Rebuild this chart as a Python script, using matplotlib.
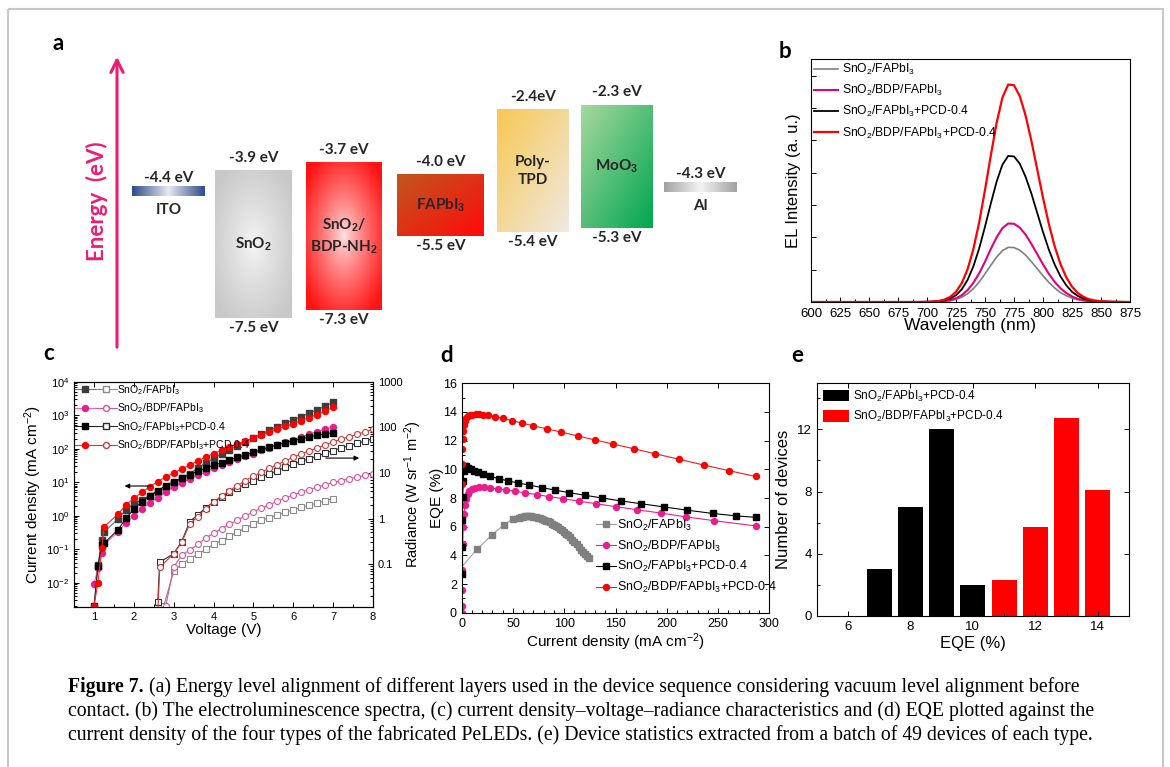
import numpy as np
import matplotlib
matplotlib.use("Agg")
import matplotlib.pyplot as plt
from matplotlib.colors import to_rgb
from matplotlib.lines import Line2D
from matplotlib.patches import Rectangle
from matplotlib.legend_handler import HandlerTuple
from matplotlib.ticker import MultipleLocator, LogLocator, FuncFormatter, NullFormatter

plt.rcParams['font.family'] = ['Liberation Sans', 'DejaVu Sans']
plt.rcParams['mathtext.fontset'] = 'custom'
plt.rcParams['mathtext.rm'] = 'Liberation Sans'
plt.rcParams['mathtext.it'] = 'Liberation Sans:italic'
plt.rcParams['mathtext.bf'] = 'Liberation Sans:bold'
plt.rcParams['axes.linewidth'] = 0.8

# ======================
# data
# ======================
# (a) energy levels (eV)
layer_names = ["ITO", r"SnO$_\mathbf{2}$", "SnO$_\\mathbf{2}$/\nBDP-NH$_\\mathbf{2}$",
               r"FAPbI$_\mathbf{3}$", "Poly-\nTPD", r"MoO$_\mathbf{3}$", "Al"]
upper_level = [-4.4, -3.9, -3.7, -4.0, -2.4, -2.3, -4.3]
lower_level = [None, -7.5, -7.3, -5.5, -5.4, -5.3, None]
upper_text = ["-4.4 eV", "-3.9 eV", "-3.7 eV", "-4.0 eV", "-2.4eV", "-2.3 eV", "-4.3 eV"]
lower_text = [None, "-7.5 eV", "-7.3 eV", "-5.5 eV", "-5.4 eV", "-5.3 eV", None]

# (b) EL spectra
wavelength = [600, 650, 690, 700, 705, 710, 715, 720, 725, 730, 735, 740, 745, 750, 755, 760,
              765, 770, 775, 780, 785, 790, 795, 800, 805, 810, 815, 820, 825, 830, 835,
              840, 845, 850, 860, 875]
el_ref = [0, 0, 0, 0.0, 0.0, 0.001, 0.003, 0.005, 0.011, 0.020, 0.034, 0.055, 0.082, 0.116,
          0.151, 0.185, 0.211, 0.225, 0.224, 0.213, 0.193, 0.166, 0.137, 0.108, 0.081,
          0.058, 0.039, 0.026, 0.016, 0.009, 0.005, 0.003, 0.002, 0.001, 0, 0]
el_bdp = [0, 0, 0, 0.0, 0.001, 0.002, 0.004, 0.008, 0.015, 0.028, 0.049, 0.079, 0.118,
          0.166, 0.218, 0.266, 0.304, 0.323, 0.322, 0.306, 0.277, 0.239, 0.197, 0.155,
          0.116, 0.083, 0.057, 0.037, 0.023, 0.013, 0.008, 0.004, 0.002, 0.001, 0, 0]
el_pcd = [0, 0, 0, 0.001, 0.001, 0.003, 0.007, 0.014, 0.028, 0.052, 0.091, 0.147, 0.221,
          0.310, 0.405, 0.495, 0.565, 0.601, 0.599, 0.569, 0.515, 0.446, 0.367, 0.288,
          0.216, 0.155, 0.106, 0.069, 0.042, 0.025, 0.014, 0.007, 0.004, 0.002, 0.001, 0]
el_bdp_pcd = [0, 0, 0, 0.001, 0.002, 0.004, 0.010, 0.021, 0.042, 0.078, 0.135, 0.218,
              0.328, 0.461, 0.603, 0.737, 0.841, 0.895, 0.892, 0.847, 0.767, 0.663, 0.546,
              0.429, 0.322, 0.230, 0.157, 0.102, 0.063, 0.037, 0.021, 0.011, 0.006, 0.003,
              0.001, 0]

# (c) J-V-R
volt_j = [1.0, 1.1, 1.2, 1.25, 1.6, 1.8, 2.0, 2.2, 2.4, 2.6, 2.8, 3.0, 3.2, 3.4, 3.6, 3.8,
          4.0, 4.2, 4.4, 4.6, 4.8, 5.0, 5.2, 5.4, 5.6, 5.8, 6.0, 6.2, 6.4, 6.6, 6.8, 7.0]
j_ref = [0.0015, 0.035, 0.19, 0.32, 0.8, 1.5, 2.3, 3.0, 4.0, 5.2, 7.0, 9.5, 13, 18, 26, 38,
         52, 71, 93, 123, 162, 214, 275, 355, 457, 575, 724, 912, 1150, 1450, 1860, 2400]
j_bdp = [0.009, 0.028, 0.08, 0.14, 0.32, 0.63, 1.0, 1.6, 2.4, 3.5, 5.2, 7.2, 9.8, 12.6, 16,
         20, 26, 32, 39, 48, 59, 72, 89, 107, 129, 155, 186, 224, 269, 324, 380, 447]
j_pcd = [0.002, 0.032, 0.13, 0.15, 0.38, 0.83, 1.6, 2.6, 4.0, 5.6, 8.0, 10.5, 13.5, 17, 21,
         26, 32, 38, 46, 55, 66, 79, 95, 112, 132, 151, 174, 200, 224, 251, 275, 302]
j_bdp_pcd = [0.002, 0.01, 0.11, 0.47, 1.1, 2.1, 3.3, 5.0, 7.4, 10.5, 14.5, 19, 25, 33, 43,
             56, 72, 90, 112, 140, 172, 212, 262, 320, 390, 465, 560, 690, 850, 1050, 1320,
             1700]

volt_r_pcd = [2.6, 2.65, 3.0, 3.2, 3.4, 3.6, 3.8, 4.0, 4.2, 4.4, 4.6, 4.8, 5.0, 5.2, 5.4,
              5.6, 5.8, 6.0, 6.2, 6.4, 6.6, 6.8, 7.0, 7.2, 7.4, 7.6, 7.8, 8.0]
r_pcd = [0.015, 0.11, 0.17, 0.31, 0.85, 1.2, 1.7, 2.3, 3.0, 3.8, 4.7, 5.7, 6.7, 8.0, 9.5,
         11.2, 13.3, 15.5, 18, 20.5, 23.5, 27, 31, 35, 39.5, 44.5, 50, 56]
r_bdp_pcd = [0.008, 0.085, 0.17, 0.30, 0.75, 1.1, 1.65, 2.3, 3.1, 4.1, 5.3, 6.8, 8.5, 10.4,
             12.6, 15.2, 18.3, 22, 26, 30.5, 35.5, 41, 48, 55, 62, 70, 80, 90]
volt_r_ref = [2.75, 3.0, 3.2, 3.4, 3.6, 3.8, 4.0, 4.2, 4.4, 4.6, 4.8, 5.0, 5.2, 5.4, 5.6,
              5.8, 6.0, 6.2, 6.4, 6.6, 6.8, 7.0]
r_ref = [0.012, 0.07, 0.10, 0.13, 0.165, 0.21, 0.27, 0.33, 0.41, 0.5, 0.62, 0.77, 0.92,
         1.05, 1.2, 1.38, 1.55, 1.75, 1.95, 2.2, 2.45, 2.75]
volt_r_bdp = [2.8, 3.0, 3.2, 3.4, 3.6, 3.8, 4.0, 4.2, 4.4, 4.6, 4.8, 5.0, 5.2, 5.4, 5.6,
              5.8, 6.0, 6.2, 6.4, 6.6, 6.8, 7.0, 7.2, 7.4, 7.6, 7.8, 8.0]
r_bdp = [0.012, 0.085, 0.16, 0.2, 0.27, 0.37, 0.48, 0.6, 0.75, 0.92, 1.15, 1.4, 1.7, 2.0,
         2.4, 2.85, 3.3, 3.8, 4.3, 4.9, 5.5, 6.2, 6.8, 7.4, 8.1, 8.8, 9.6]

# (d) EQE vs current density
jd_ref = [0, 15, 29.5, 41, 50, 56, 58, 60, 62, 64, 66, 68, 70, 72, 74, 76, 78, 80, 82, 84,
          86, 88, 90, 92, 94, 96, 98, 100, 102, 104, 106, 108, 110, 112, 114, 116, 118,
          120, 122, 124]
eqe_ref = [3.2, 4.42, 5.42, 6.12, 6.55, 6.62, 6.66, 6.69, 6.71, 6.72, 6.72, 6.71, 6.69,
           6.66, 6.63, 6.59, 6.54, 6.49, 6.43, 6.37, 6.30, 6.22, 6.14, 6.05, 5.96, 5.86,
           5.75, 5.64, 5.52, 5.39, 5.25, 5.10, 4.94, 4.77, 4.59, 4.40, 4.22, 4.06, 3.93,
           3.83]
jd_bdp = [0, 0.2, 0.4, 0.7, 1.0, 1.5, 2.2, 3.0, 4.2, 5.7, 7.5, 10, 13, 17, 22, 28, 35, 43,
          52, 62, 73, 85, 99, 114, 131, 150, 171, 194, 219, 246, 287]
eqe_bdp = [0, 0.5, 1.6, 3.0, 4.8, 6.0, 6.9, 7.5, 7.95, 8.3, 8.5, 8.65, 8.72, 8.75, 8.74,
           8.7, 8.64, 8.56, 8.47, 8.36, 8.24, 8.1, 7.95, 7.78, 7.6, 7.4, 7.18, 6.95, 6.68,
           6.42, 6.05]
jd_pcd = [0, 0.3, 0.6, 1.0, 1.5, 2.2, 3.0, 4.5, 6.5, 9, 12, 16, 21, 28, 36, 45, 55, 66, 78,
          91, 105, 120, 137, 155, 175, 197, 220, 245, 268, 287]
eqe_pcd = [2.7, 4.6, 6.5, 8.1, 9.2, 9.9, 10.25, 10.2, 10.1, 10.0, 9.9, 9.78, 9.65, 9.5,
           9.35, 9.2, 9.05, 8.9, 8.73, 8.55, 8.37, 8.19, 8.0, 7.8, 7.6, 7.38, 7.15, 6.92,
           6.75, 6.65]
jd_bdp_pcd = [0, 0.3, 0.6, 1.0, 1.5, 2.2, 3.2, 4.5, 6, 8, 10.5, 13.5, 17, 21, 26, 32, 40,
              49, 59, 70, 83, 97, 113, 130, 148, 168, 189, 212, 236, 261, 287]
eqe_bdp_pcd = [9.0, 10.4, 11.4, 12.1, 12.7, 13.1, 13.4, 13.6, 13.7, 13.78, 13.82, 13.85,
               13.85, 13.82, 13.76, 13.68, 13.56, 13.4, 13.22, 13.03, 12.82, 12.6, 12.33,
               12.05, 11.76, 11.43, 11.08, 10.7, 10.3, 9.9, 9.5]

# (e) device statistics
eqe_bins_pcd = [7, 8, 9, 10]
count_pcd = [3.0, 7.0, 12.0, 2.0]
eqe_bins_bdp_pcd = [11, 12, 13, 14]
count_bdp_pcd = [2.3, 5.75, 12.7, 8.1]

labels = ["SnO$_2$/FAPbI$_3$", "SnO$_2$/BDP/FAPbI$_3$", "SnO$_2$/FAPbI$_3$+PCD-0.4",
          "SnO$_2$/BDP/FAPbI$_3$+PCD-0.4"]

caption = ["(a) Energy level alignment of different layers used in the device sequence "
           "considering vacuum level alignment before",
           "contact. (b) The electroluminescence spectra, (c) current density\u2013voltage\u2013"
           "radiance characteristics and (d) EQE plotted against the",
           "current density of the four types of the fabricated PeLEDs. (e) Device statistics "
           "extracted from a batch of 49 devices of each type."]

# ======================
# layout helpers
# ======================
W, H = 1170, 767
fig = plt.figure(figsize=(W / 100, H / 100), dpi=100)
fig.patch.set_facecolor('white')


def px_axes(x0, y0, x1, y1):
    return fig.add_axes([x0 / W, 1 - y1 / H, (x1 - x0) / W, (y1 - y0) / H])


def style_ticks(ax, size):
    ax.tick_params(which='both', direction='in', labelsize=size, width=0.7)
    ax.tick_params(which='major', length=3.5)
    ax.tick_params(which='minor', length=2)


def gradient(kind, c1, c2, n=80):
    a, b = np.array(to_rgb(c1)), np.array(to_rgb(c2))
    u, v = np.meshgrid(np.linspace(0, 1, n), np.linspace(0, 1, n))
    if kind == 'h':
        t = np.abs(u - 0.5) * 2
    elif kind == 'r':
        t = np.clip(np.hypot((u - 0.5) * 2, (v - 0.5) * 2) / 1.25, 0, 1) ** 0.8
    else:
        t = (u + v) / 2
    return a * (1 - t[..., None]) + b * t[..., None]


# ======================
# (a) energy diagram
# ======================
axa = px_axes(0, 40, W, 340)
axa.axis('off')

layer_x = [(132, 205), (215, 292), (306, 382), (397, 484), (497, 569), (581, 653), (664, 737)]
layer_fill = [('h', '#e6eaf2', '#2d4b8c'), ('r', '#f7f7f7', '#c8c8c8'),
              ('r', '#ffe8e8', '#ff1414'), ('d', '#c0571f', '#ff0a0a'),
              ('d', '#f8c853', '#f0e9e2'), ('d', '#a8d89e', '#00a650'),
              ('h', '#f4f4f4', '#a2a2a2')]
txt_kw = dict(family=['Lato', 'DejaVu Sans'], fontweight='bold', color='#262626',
              ha='center', va='center', textcoords='offset pixels')

for name, up, lo, ut, lt, (x0, x1), (kind, c1, c2) in zip(
        layer_names, upper_level, lower_level, upper_text, lower_text, layer_x, layer_fill):
    xc = (x0 + x1) / 2
    if lo is None:
        # electrode: thin bar at the work function
        top, bot = up + 0.12, up - 0.12
        axa.imshow(gradient(kind, c1, c2), extent=[x0, x1, bot, top], aspect='auto',
                   interpolation='bilinear', zorder=2)
        axa.annotate(ut, (xc, up), xytext=(0, 13), fontsize=11, **txt_kw)
        axa.annotate(name, (xc, up), xytext=(0, -19), fontsize=11, **txt_kw)
    else:
        axa.imshow(gradient(kind, c1, c2), extent=[x0, x1, lo, up], aspect='auto',
                   interpolation='bilinear', zorder=2)
        axa.annotate(ut, (xc, up), xytext=(0, 13), fontsize=11, **txt_kw)
        axa.annotate(lt, (xc, lo), xytext=(0, -10), fontsize=11, **txt_kw)
        axa.annotate(name, (xc, (up + lo) / 2), xytext=(0, 0), fontsize=11,
                     linespacing=1.35, **txt_kw)
axa.set_xlim(0, W)
axa.set_ylim(-8.038, -0.698)

# ======================
# (b) EL spectra
# ======================
axb = px_axes(811, 59, 1130, 302)
for lab, vals, col, lw in zip(labels, [el_ref, el_bdp, el_pcd, el_bdp_pcd],
                              ['#808080', '#e4007c', '#000000', '#ff0000'],
                              [1.2, 1.5, 1.3, 1.6]):
    axb.plot(wavelength, vals, color=col, lw=lw, label=lab)
axb.set_xlim(600, 875)
axb.set_ylim(0, 1.0)
axb.xaxis.set_major_locator(MultipleLocator(25))
axb.xaxis.set_minor_locator(MultipleLocator(12.5))
axb.yaxis.set_major_locator(MultipleLocator(0.133))
axb.yaxis.set_major_formatter(NullFormatter())
style_ticks(axb, 9.5)
axb.tick_params(axis='x', pad=4)
axb.set_xlabel("Wavelength (nm)", fontsize=12.5, labelpad=-1)
axb.set_ylabel("EL Intensity (a. u.)", fontsize=12, labelpad=4)
axb.legend(loc='upper left', frameon=False, fontsize=8.7, handlelength=2.0,
           handletextpad=0.3, borderaxespad=0, borderpad=0.25, labelspacing=0.5)

# ======================
# (c) J-V-R
# ======================
axc = px_axes(74, 381.7, 373, 607)
axc.set_yscale('log')
axc2 = axc.twinx()
axc2.set_yscale('log')

j_series = [j_ref, j_bdp, j_pcd, j_bdp_pcd]
j_cols = ['#3d3d3d', '#ec1c8c', '#000000', '#ff0000']
j_lines = ['#707070', '#f06aa8', '#202020', '#e83030']
j_marks = ['s', 'o', 's', 'o']
for vals, col, lcol, mk in zip(j_series, j_cols, j_lines, j_marks):
    axc.plot(volt_j, vals, color=lcol, lw=0.8, marker=mk, ms=4.3, mfc=col, mec=col)

r_volts = [volt_r_ref, volt_r_bdp, volt_r_pcd, volt_r_pcd]
r_series = [r_ref, r_bdp, r_pcd, r_bdp_pcd]
r_cols = ['#8a8a8a', '#d8559a', '#303030', '#c83c3c']
for vv, vals, col, mk in zip(r_volts, r_series, r_cols, j_marks):
    axc2.plot(vv, vals, color=col, lw=0.8, marker=mk, ms=4.3, mfc='white', mec=col, mew=0.8)

axc.set_xlim(0.5, 8)
axc.set_ylim(1.9e-3, 1e4)
axc2.set_ylim(0.0115, 1000)
axc.xaxis.set_major_locator(MultipleLocator(1))
axc.xaxis.set_minor_locator(MultipleLocator(0.5))
axc.yaxis.set_major_locator(LogLocator(base=10, numticks=10))
axc.yaxis.set_minor_locator(LogLocator(base=10, subs=np.arange(2, 10), numticks=10))
axc.yaxis.set_minor_formatter(NullFormatter())
axc2.yaxis.set_major_locator(LogLocator(base=10, numticks=10))
axc2.yaxis.set_minor_locator(LogLocator(base=10, subs=np.arange(2, 10), numticks=10))
axc2.yaxis.set_minor_formatter(NullFormatter())
axc2.yaxis.set_major_formatter(FuncFormatter(lambda v, p: f"{v:g}"))
style_ticks(axc, 8)
style_ticks(axc2, 8)
axc.tick_params(top=True)
axc.set_xlabel("Voltage (V)", fontsize=11, labelpad=1)
axc.set_ylabel("Current density (mA cm$^{-2}$)", fontsize=11)
axc.yaxis.set_label_coords(-0.10, 0.5)
axc2.set_ylabel("Radiance (W sr$^{-1}$ m$^{-2}$)", fontsize=10.5)
axc2.yaxis.set_label_coords(1.100, 0.5)

hc = []
for col, lcol, rcol, mk in zip(j_cols, j_lines, r_cols, j_marks):
    f = Line2D([], [], color=lcol, lw=0.8, marker=mk, ms=4.3, mfc=col, mec=col)
    o = Line2D([], [], color=rcol, lw=0.8, marker=mk, ms=4.3, mfc='white', mec=rcol)
    hc.append((f, o))
axc2.legend(hc, labels, handler_map={tuple: HandlerTuple(ndivide=None, pad=0)},
            loc='upper left', frameon=False, fontsize=7.5, handlelength=4.0,
            handletextpad=0.05, borderaxespad=0, borderpad=0.1, labelspacing=0.45)

axc2.annotate('', xy=(0.16, 0.537), xytext=(0.27, 0.537), xycoords='axes fraction',
              arrowprops=dict(arrowstyle='-|>', color='black', lw=0.8, mutation_scale=7))
axc2.annotate('', xy=(0.963, 0.661), xytext=(0.833, 0.661), xycoords='axes fraction',
              arrowprops=dict(arrowstyle='-|>', color='black', lw=0.8, mutation_scale=7))

# ======================
# (d) EQE vs J
# ======================
axd = px_axes(461.7, 383.3, 769.3, 612.7)
d_x = [jd_ref, jd_bdp, jd_pcd, jd_bdp_pcd]
d_y = [eqe_ref, eqe_bdp, eqe_pcd, eqe_bdp_pcd]
d_cols = ['#808080', '#ec1c8c', '#000000', '#ff0000']
d_lines = ['#a0a0a0', '#ec1c8c', '#000000', '#e82020']
for xs, ys, col, lcol, mk, lab in zip(d_x, d_y, d_cols, d_lines, j_marks, labels):
    axd.plot(xs, ys, color=lcol, lw=0.8, marker=mk, ms=4.3, mfc=col, mec=col,
             markevery=slice(1, None) if col == '#808080' else None, label=lab)
axd.set_xlim(0, 300)
axd.set_ylim(0, 16)
axd.xaxis.set_major_locator(MultipleLocator(50))
axd.xaxis.set_minor_locator(MultipleLocator(10))
axd.yaxis.set_major_locator(MultipleLocator(2))
axd.yaxis.set_minor_locator(MultipleLocator(1))
style_ticks(axd, 9)
axd.tick_params(top=True, right=True)
axd.set_xlabel("Current density (mA cm$^{-2}$)", fontsize=11, labelpad=1)
axd.set_ylabel("EQE (%)", fontsize=11)
axd.yaxis.set_label_coords(-0.058, 0.5)
hd = [Line2D([], [], color=lc, lw=0.8, marker=mk, ms=4.3, mfc=c, mec=c)
      for c, lc, mk in zip(d_cols, d_lines, j_marks)]
axd.legend(hd, labels, loc='lower left', bbox_to_anchor=(0.415, 0.05), frameon=False,
           fontsize=9, handlelength=1.6, handletextpad=0.1, borderpad=0,
           labelspacing=0.45)

# ======================
# (e) statistics
# ======================
axe = px_axes(816.7, 382.7, 1129, 616)
axe.bar(eqe_bins_pcd, count_pcd, width=0.8, color='black', label=labels[2])
axe.bar(eqe_bins_bdp_pcd, count_bdp_pcd, width=0.8, color='#ff0000', label=labels[3])
axe.set_xlim(5, 15)
axe.set_ylim(0, 15)
axe.xaxis.set_major_locator(MultipleLocator(2))
axe.xaxis.set_minor_locator(MultipleLocator(1))
axe.yaxis.set_major_locator(MultipleLocator(4))
axe.yaxis.set_minor_locator(MultipleLocator(2))
style_ticks(axe, 9.5)
axe.tick_params(top=True, right=True)
axe.set_xlabel("EQE (%)", fontsize=12, labelpad=2)
axe.set_ylabel("Number of devices", fontsize=12, labelpad=4)
axe.legend(loc='upper left', frameon=False, fontsize=8.5, handlelength=2.2,
           handleheight=1.15, handletextpad=0.4, borderaxespad=0.3, borderpad=0.2,
           labelspacing=0.45)

# ======================
# overlay: border, arrow, panel letters, caption
# ======================
ov = fig.add_axes([0, 0, 1, 1])
ov.set_xlim(0, W)
ov.set_ylim(H, 0)
ov.axis('off')
ov.add_patch(Rectangle((8, 9), 1155, 800, fill=False, ec='#c8c8c8', lw=1.5))
ov.annotate('', xy=(117, 54), xytext=(117, 350),
            arrowprops=dict(arrowstyle='->', color='#ec1c74', lw=2.2, mutation_scale=22))
ov.text(97, 201, "Energy  (eV)", rotation=90, color='#ec1c74', fontsize=16,
        fontweight='bold', family=['Lato', 'DejaVu Sans'], ha='center', va='center')
for let, x, y in [('a', 58, 43), ('b', 785, 52), ('c', 49, 354), ('d', 447, 355),
                  ('e', 797, 355)]:
    ov.text(x, y, let, fontsize=16, fontweight='bold', family=['Lato', 'DejaVu Sans'],
            ha='center', va='center')

renderer = fig.canvas.get_renderer()
probe = ov.text(68, 711, caption[1], fontsize=14, family='Liberation Serif', va='center')
fs = 14 * (1100 - 68) / probe.get_window_extent(renderer).width
probe.remove()
head = ov.text(68, 687, "Figure 7.", fontsize=fs, fontweight='bold',
               family='Liberation Serif', va='center')
hw = head.get_window_extent(renderer).width
ov.text(68 + hw + fs * 0.35, 687, caption[0], fontsize=fs, family='Liberation Serif',
        va='center')
ov.text(68, 711, caption[1], fontsize=fs, family='Liberation Serif', va='center')
ov.text(68, 735, caption[2], fontsize=fs, family='Liberation Serif', va='center')

fig.savefig("out.png", dpi=100)
